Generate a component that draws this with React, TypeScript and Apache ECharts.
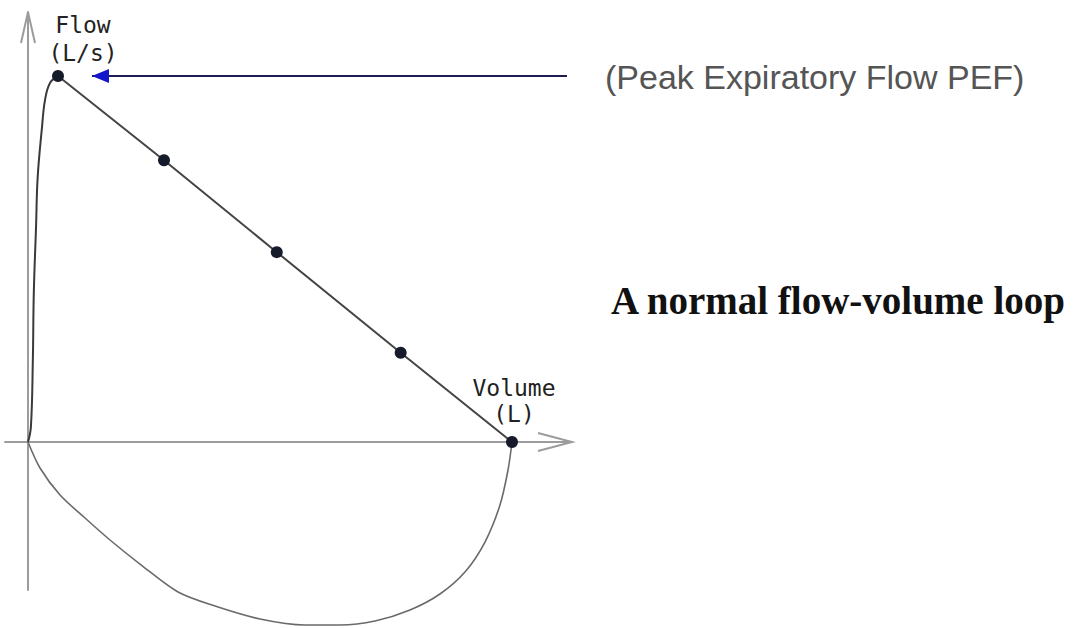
import { useEffect, useRef } from "react";
import * as echarts from "echarts";

// Volume (L) / Flow (L/s) values
const peakFlow: [number, number] = [0.31, 8.0];
const expiratoryPoints: [number, number][] = [
  [0.31, 8.0],
  [1.405, 6.16],
  [2.57, 4.15],
  [3.85, 1.95],
  [5.0, 0],
];
const risingLimb: [number, number][] = [
  [0, 0],
  [0.03, 0.33],
  [0.05, 1.79],
  [0.06, 3.26],
  [0.083, 4.7],
  [0.1, 5.79],
  [0.145, 6.89],
  [0.176, 7.48],
  [0.227, 7.85],
  [0.31, 8.0],
];
const inspiratoryLoop: [number, number][] = [
  [0, 0],
  [0.124, -0.568],
  [0.331, -1.158],
  [0.589, -1.661],
  [0.847, -2.142],
  [1.157, -2.667],
  [1.55, -3.279],
  [1.932, -3.585],
  [2.397, -3.869],
  [2.862, -4.0],
  [3.223, -4.0],
  [3.585, -3.913],
  [3.946, -3.672],
  [4.256, -3.322],
  [4.514, -2.842],
  [4.721, -2.186],
  [4.876, -1.377],
  [4.959, -0.612],
  [5.0, 0],
];
const xRange = [-0.2376, 5.62];
const yRange = [-3.235, 9.4];
const pefArrowX = [0.661, 5.568];

const yAxisName = "Flow\n(L/s)";
const xAxisName = "Volume\n(L)";
const pefLabel = "(Peak Expiratory Flow PEF)";
const titleText = "A normal flow-volume loop";

export default function App() {
  const ref = useRef<HTMLDivElement>(null);
  useEffect(() => {
    if (!ref.current) return;
    const chart = echarts.init(ref.current, null, { renderer: "svg" });
    const axisCommon = {
      type: "value" as const,
      axisTick: { show: false },
      axisLabel: { show: false },
      splitLine: { show: false },
      axisLine: { show: true, onZero: true, lineStyle: { color: "#9c9c9c", width: 2 } },
    };
    chart.setOption({
      animation: false,
      backgroundColor: "#ffffff",
      grid: { left: 5, right: 504, top: 12, bottom: 38 },
      xAxis: { ...axisCommon, min: xRange[0], max: xRange[1] },
      yAxis: { ...axisCommon, min: yRange[0], max: yRange[1] },
      series: [
        {
          type: "line",
          data: inspiratoryLoop,
          smooth: 0.3,
          symbol: "none",
          clip: false,
          lineStyle: { color: "#6a6a6a", width: 1.6 },
        },
        {
          type: "line",
          data: risingLimb,
          smooth: 0.4,
          symbol: "none",
          clip: false,
          lineStyle: { color: "#3a3a3a", width: 2 },
        },
        {
          type: "line",
          data: expiratoryPoints,
          symbol: "circle",
          symbolSize: 12,
          itemStyle: { color: "#161b2b" },
          lineStyle: { color: "#444444", width: 2 },
          markLine: {
            silent: true,
            symbol: ["none", "none"],
            label: { show: false },
            lineStyle: { color: "#1c1c50", width: 2, type: "solid" },
            data: [[{ coord: [pefArrowX[0], peakFlow[1]] }, { coord: [pefArrowX[1], peakFlow[1]] }]],
          },
        },
      ],
    });

    const px = (p: number[]) => chart.convertToPixel({ gridIndex: 0 }, p) as number[];
    const xe = px([xRange[1], 0]);
    const ye = px([0, yRange[1]]);
    const tip = px([pefArrowX[0], peakFlow[1]]);

    chart.setOption({
      graphic: [
        {
          type: "polyline",
          shape: { points: [[xe[0] - 34, xe[1] - 9], [xe[0], xe[1]], [xe[0] - 34, xe[1] + 9]] },
          style: { stroke: "#9c9c9c", lineWidth: 2, fill: null },
          z: 10,
        },
        {
          type: "polyline",
          shape: { points: [[ye[0] - 7, ye[1] + 31], [ye[0], ye[1]], [ye[0] + 7, ye[1] + 31]] },
          style: { stroke: "#9c9c9c", lineWidth: 2, fill: null },
          z: 10,
        },
        {
          type: "polygon",
          shape: { points: [[tip[0], tip[1]], [tip[0] + 17, tip[1] - 7], [tip[0] + 17, tip[1] + 7]] },
          style: { fill: "#1414c8" },
          z: 10,
        },
        {
          type: "text",
          x: 83,
          y: 39,
          style: {
            text: yAxisName,
            font: "23px 'DejaVu Sans Mono', monospace",
            fill: "#222222",
            align: "center",
            verticalAlign: "middle",
            lineHeight: 28,
          },
          z: 10,
        },
        {
          type: "text",
          x: 514,
          y: 401,
          style: {
            text: xAxisName,
            font: "23px 'DejaVu Sans Mono', monospace",
            fill: "#222222",
            align: "center",
            verticalAlign: "middle",
            lineHeight: 26,
          },
          z: 10,
        },
        {
          type: "text",
          x: 605,
          y: 77,
          style: {
            text: pefLabel,
            font: "34px 'Liberation Sans', Arial, sans-serif",
            fill: "#555555",
            align: "left",
            verticalAlign: "middle",
          },
          z: 10,
        },
        {
          type: "text",
          x: 611,
          y: 300,
          style: {
            text: titleText,
            font: "bold 39px 'Liberation Serif', 'Times New Roman', serif",
            fill: "#111111",
            align: "left",
            verticalAlign: "middle",
          },
          z: 10,
        },
      ],
    });
    return () => chart.dispose();
  }, []);
  return (
    <div
      ref={ref}
      style={{ position: "absolute", left: 0, top: 0, width: 1076, height: 628, background: "#fff" }}
    />
  );
}
